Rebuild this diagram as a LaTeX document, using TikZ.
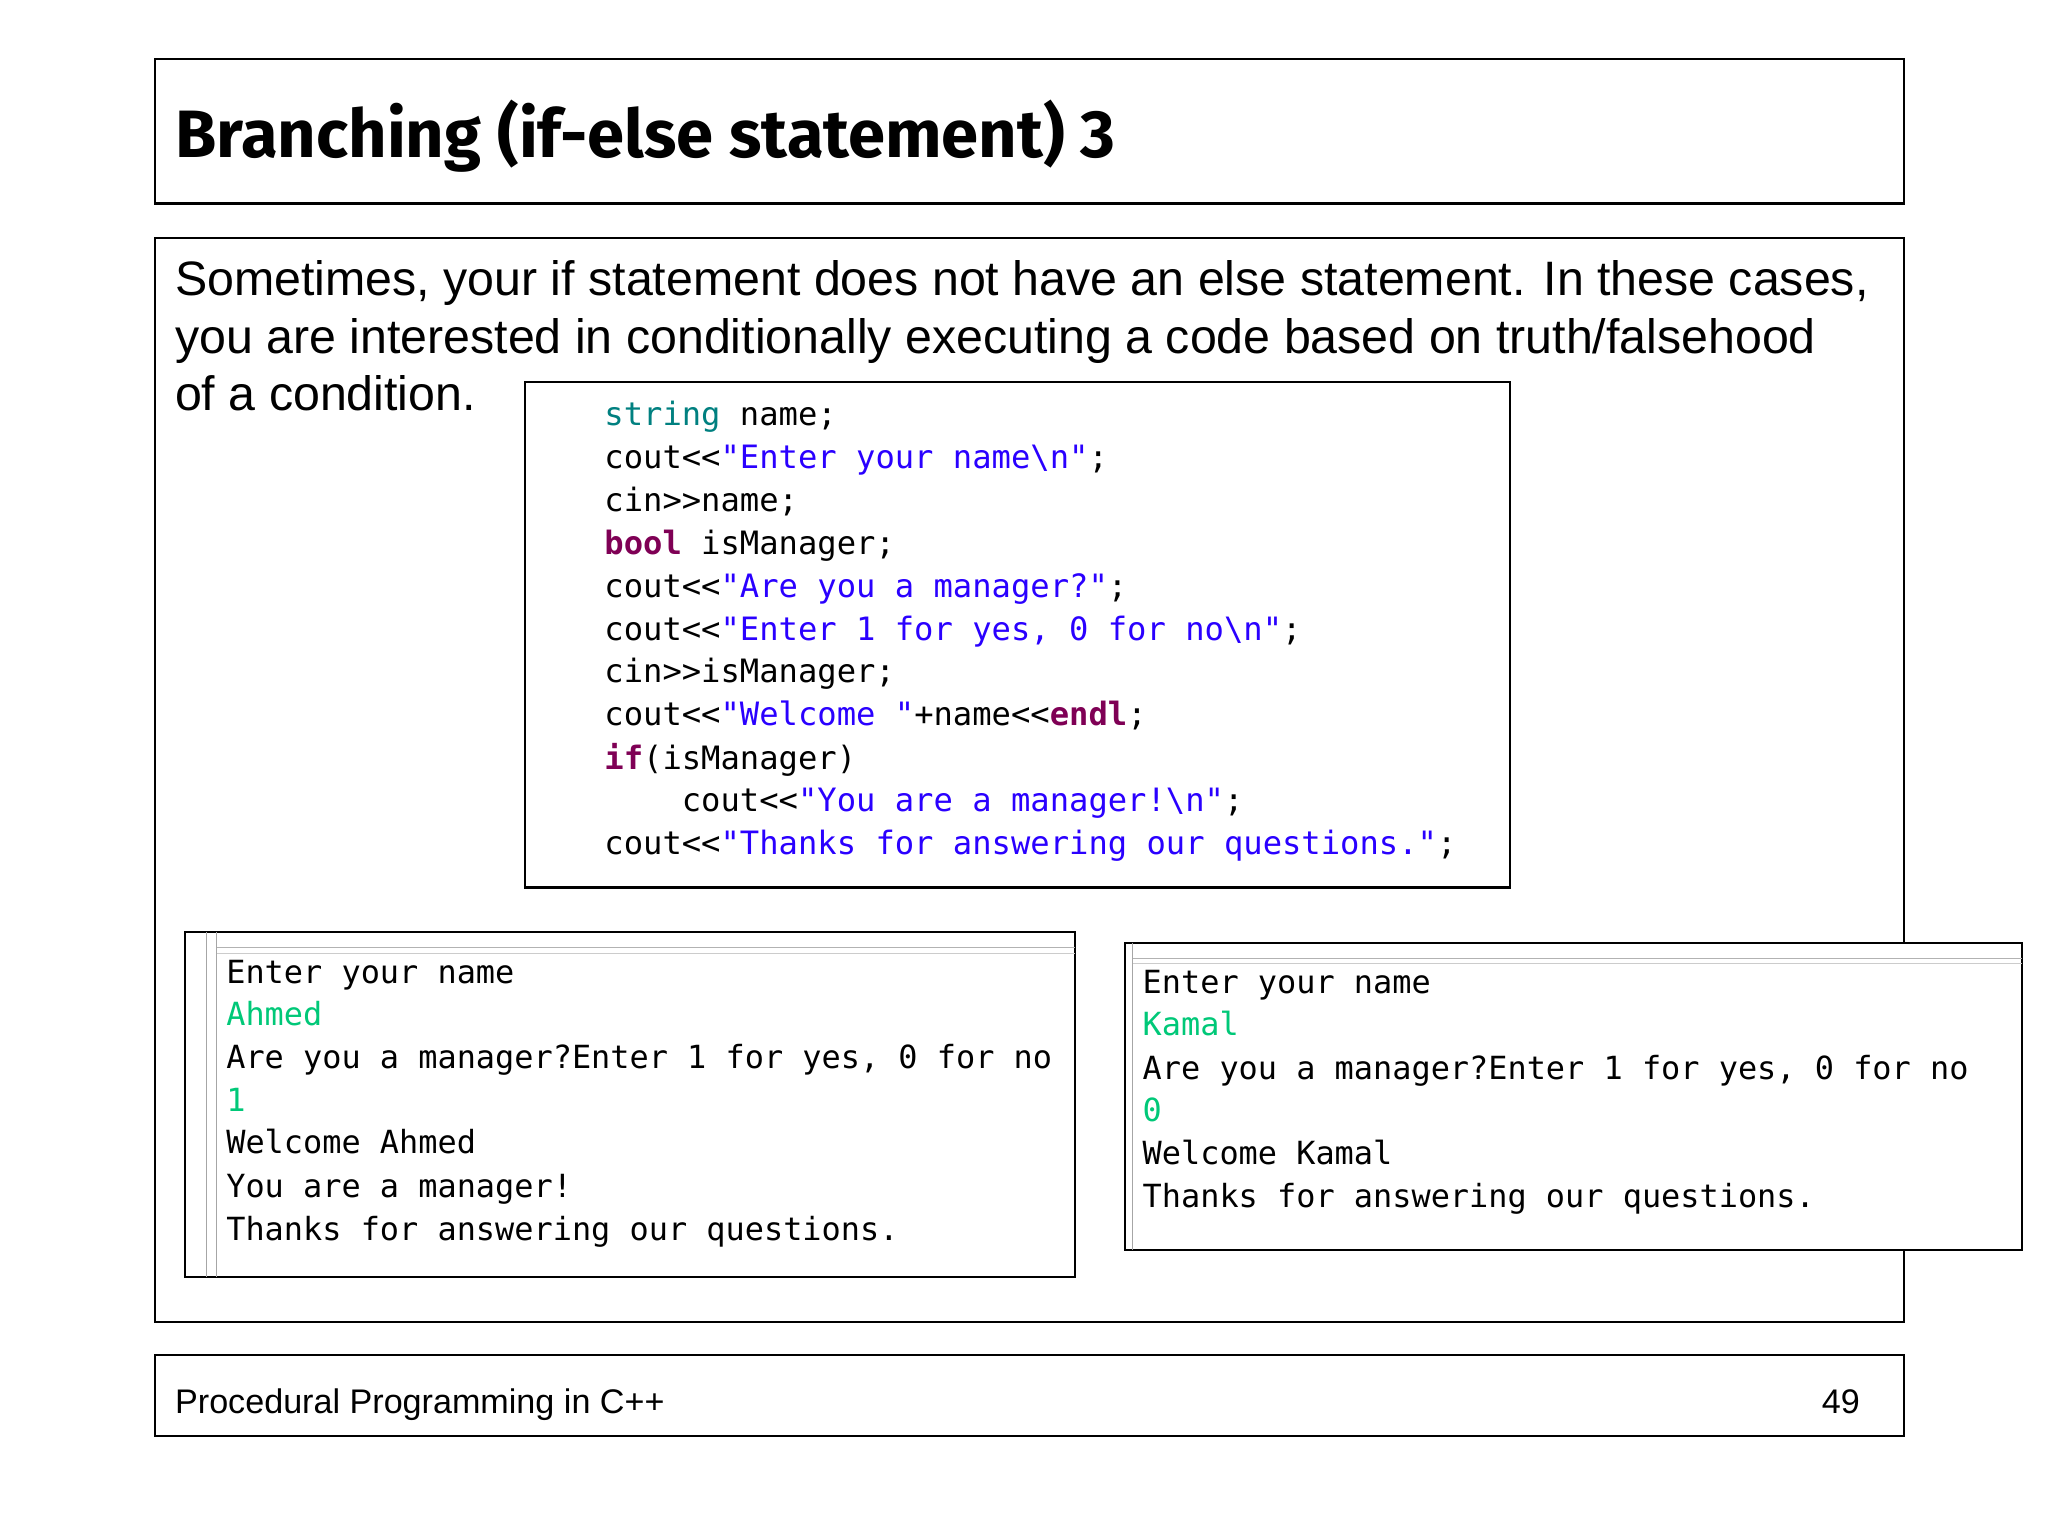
\documentclass[tikz,border=0pt]{standalone}
\usepackage{fontspec}
\setmainfont{Liberation Sans}
\newfontfamily\titlefont{Fira Sans}
\setmonofont{DejaVu Sans Mono}
\definecolor{kw}{RGB}{127,0,85}
\definecolor{st}{RGB}{42,0,255}
\definecolor{ty}{RGB}{0,128,128}
\definecolor{inp}{RGB}{0,200,120}
\begin{document}
\begin{tikzpicture}[x=0.5pt,y=-0.5pt,
  box/.style={draw=black,line width=0.8pt},
  txt/.style={anchor=base west,inner sep=0pt},
  code/.style={txt,font=\ttfamily\fontsize{12.25}{14}\selectfont},
  cons/.style={txt,font=\ttfamily\fontsize{12.15}{14}\selectfont}]
\useasboundingbox (0,0) rectangle (1560,1170);
\fill[white] (0,0) rectangle (1560,1170);
% title
\draw[box] (118,45) rectangle (1450,155);
\node[txt,font=\titlefont\bfseries\fontsize{25.5}{30}\selectfont] (title) at (133,120) {Branching (if-else statement) 3};
% content
\draw[box] (118,181) rectangle (1450,1007);
\begin{scope}[every node/.style={txt,font=\fontsize{18.4}{20}\selectfont}]
\node (l1) at (133,225) {Sometimes, your if statement does not have an else statement. In these cases,};
\node (l2) at (133,269) {you are interested in conditionally executing a code based on truth/falsehood};
\node (l3) at (133,313) {of a condition.};
\end{scope}
% code box
\draw[box,fill=white] (400,291) rectangle (1150,676);
\def\cx{460}
\node[code] (c1) at (\cx,324) {\textcolor{ty}{string} name;};
\node[code] (c2) at (\cx,357) {cout<<\textcolor{st}{"Enter your name\textbackslash n"};};
\node[code] (c3) at (\cx,390) {cin>>name;};
\node[code] (c4) at (\cx,422) {\textcolor{kw}{\bfseries bool} isManager;};
\node[code] (c5) at (\cx,455) {cout<<\textcolor{st}{"Are you a manager?"};};
\node[code] (c6) at (\cx,488) {cout<<\textcolor{st}{"Enter 1 for yes, 0 for no\textbackslash n"};};
\node[code] (c7) at (\cx,520) {cin>>isManager;};
\node[code] (c8) at (\cx,553) {cout<<\textcolor{st}{"Welcome "}+name<<\textcolor{kw}{\bfseries endl};};
\node[code] (c9) at (\cx,586) {\textcolor{kw}{\bfseries if}(isManager)};
\node[code] (c10) at (519,618) {cout<<\textcolor{st}{"You are a manager!\textbackslash n"};};
\node[code] (c11) at (\cx,651) {cout<<\textcolor{st}{"Thanks for answering our questions."};};
% console 1
\draw[box,fill=white] (141,710) rectangle (819,973);
\draw[gray!70] (165,710) -- (165,973);
\draw[gray!70] (157,710) -- (157,973);
\draw[gray!60] (165,722) -- (819,722);
\draw[gray!40] (165,726) -- (819,726);
\def\ax{172}
\node[cons] (a1) at (\ax,749) {Enter your name};
\node[cons,text=inp] (a2) at (\ax,781) {Ahmed};
\node[cons] (a3) at (\ax,814) {Are you a manager?Enter 1 for yes, 0 for no};
\node[cons,text=inp] (a4) at (\ax,847) {1};
\node[cons] (a5) at (\ax,879) {Welcome Ahmed};
\node[cons] (a6) at (\ax,912) {You are a manager!};
\node[cons] (a7) at (\ax,945) {Thanks for answering our questions.};
% console 2
\draw[box,fill=white] (857,718) rectangle (1540,952);
\draw[gray!70] (863,718) -- (863,952);
\draw[gray!60] (863,730) -- (1540,730);
\draw[gray!40] (863,734) -- (1540,734);
\def\bx{870}
\node[cons] (b1) at (\bx,757) {Enter your name};
\node[cons,text=inp] (b2) at (\bx,789) {Kamal};
\node[cons] (b3) at (\bx,822) {Are you a manager?Enter 1 for yes, 0 for no};
\node[cons,text=inp] (b4) at (\bx,854) {0};
\node[cons] (b5) at (\bx,887) {Welcome Kamal};
\node[cons] (b6) at (\bx,920) {Thanks for answering our questions.};
% footer
\draw[box] (118,1032) rectangle (1450,1094);
\node[txt,font=\fontsize{13}{15}\selectfont] (f1) at (133,1077) {Procedural Programming in C++};
\node[txt,anchor=base east,font=\fontsize{13}{15}\selectfont] (f2) at (1417,1077) {49};
\end{tikzpicture}
\end{document}
